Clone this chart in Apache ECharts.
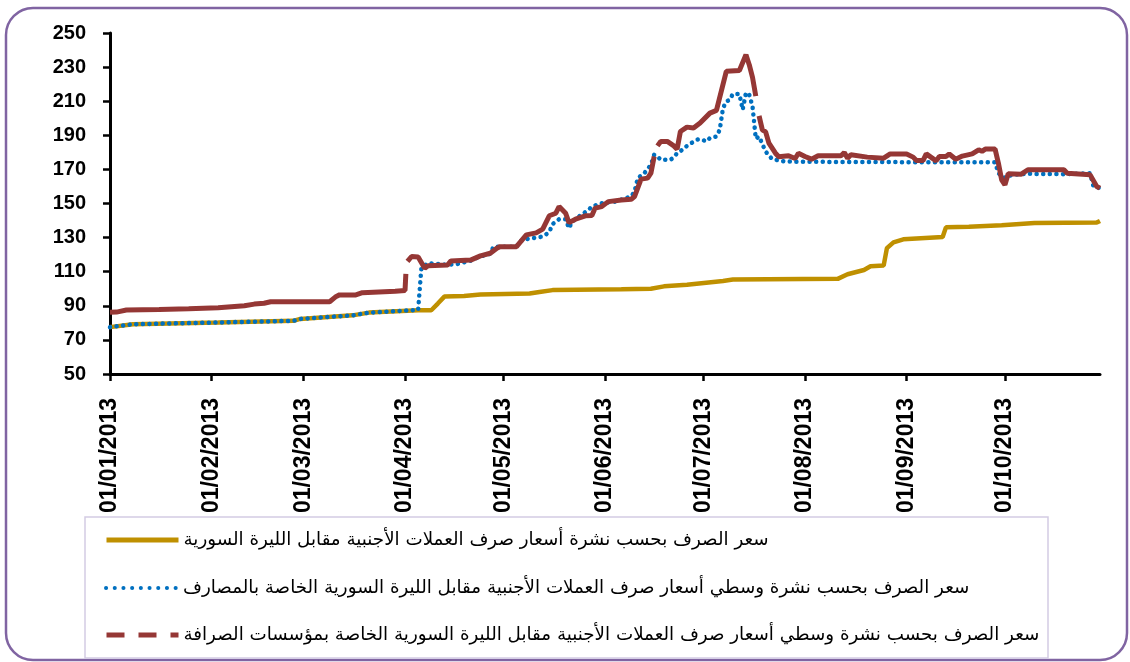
<!DOCTYPE html>
<html>
<head>
<meta charset="utf-8">
<script src="https://cdn.jsdelivr.net/npm/echarts@6/dist/echarts.min.js"></script>
<style>
html,body{margin:0;padding:0;background:#fff;}
#chart{width:1130px;height:662px;}
</style>
</head>
<body>
<div id="chart"></div>
<script>
// Series names (legend)
const seriesNames = [
  'سعر الصرف بحسب نشرة أسعار صرف العملات الأجنبية مقابل الليرة السورية',
  'سعر الصرف بحسب نشرة وسطي أسعار صرف العملات الأجنبية مقابل الليرة السورية الخاصة بالمصارف',
  'سعر الصرف بحسب نشرة وسطي أسعار صرف العملات الأجنبية مقابل الليرة السورية الخاصة بمؤسسات الصرافة'
];

// Y axis ticks
const yMin = 50, yMax = 250, yStep = 20;
const xMin = '2013-01-01', xMax = '2013-10-30';

// Official bulletin rate
const officialDates = ['2013-01-01','2013-01-08','2013-02-03','2013-02-26','2013-02-28','2013-03-16','2013-03-21','2013-04-05','2013-04-09','2013-04-11','2013-04-13','2013-04-19','2013-04-24','2013-05-09','2013-05-12','2013-05-16','2013-06-06','2013-06-15','2013-06-19','2013-06-26','2013-07-07','2013-07-10','2013-08-11','2013-08-14','2013-08-19','2013-08-21','2013-08-25','2013-08-26','2013-08-28','2013-08-31','2013-09-12','2013-09-13','2013-09-20','2013-09-30','2013-10-10','2013-10-29','2013-10-30'];
const officialValues = [77.5,79.2,80.2,81.2,82.3,84.4,86.0,87.4,87.4,91.3,95.4,95.8,96.6,97.2,98.1,99.2,99.7,100.0,101.4,102.4,104.6,105.4,105.8,108.5,111.0,113.2,113.6,123.8,127.2,129.0,130.3,136.0,136.3,137.3,138.6,138.8,139.8];

// Banks average rate
const bankDates = ['2013-01-01','2013-01-08','2013-02-03','2013-02-26','2013-02-28','2013-03-16','2013-03-21','2013-04-05','2013-04-06','2013-04-08','2013-04-14','2013-04-17','2013-04-21','2013-04-24','2013-04-27','2013-04-28','2013-05-05','2013-05-06','2013-05-08','2013-05-13','2013-05-15','2013-05-16','2013-05-18','2013-05-20','2013-05-21','2013-05-22','2013-05-24','2013-05-27','2013-05-28','2013-05-31','2013-06-04','2013-06-09','2013-06-10','2013-06-11','2013-06-13','2013-06-15','2013-06-16','2013-06-17','2013-06-18','2013-06-21','2013-06-22','2013-06-23','2013-06-24','2013-06-25','2013-06-27','2013-06-29','2013-06-30','2013-07-02','2013-07-03','2013-07-05','2013-07-06','2013-07-07','2013-07-08','2013-07-09','2013-07-10','2013-07-12','2013-07-13','2013-07-14','2013-07-15','2013-07-16','2013-07-17','2013-07-18','2013-07-20','2013-07-22','2013-07-26','2013-08-15','2013-09-28','2013-09-29','2013-10-01','2013-10-03','2013-10-08','2013-10-20','2013-10-27','2013-10-28','2013-10-30'];
const bankValues = [77.5,79.2,80.2,81.2,82.3,84.4,86.0,87.6,112.5,115.0,114.0,114.5,116.5,119.0,120.5,124.7,124.7,127.7,129.1,130.6,133.2,137.9,140.8,140.8,135.5,139.4,142.3,146.3,148.2,150.2,151.1,154.1,157.0,164.9,167.8,172.7,178.6,177.6,175.6,175.6,177.2,179.5,180.5,182.5,185.0,187.4,187.8,186.4,188.4,189.3,193.2,206.0,209.8,210.8,214.2,214.2,205.0,215.0,213.8,207.0,188.0,189.3,180.5,176.0,174.6,174.3,174.2,167.8,164.9,166.8,167.4,167.2,167.8,160.0,159.0];

// Exchange companies average rate (null = break in line)
const exchangeDates = ['2013-01-01','2013-01-03','2013-01-06','2013-01-16','2013-01-25','2013-02-03','2013-02-07','2013-02-11','2013-02-14','2013-02-17','2013-02-19','2013-03-09','2013-03-11','2013-03-12','2013-03-17','2013-03-19','2013-03-29','2013-04-01','2013-04-01 06:00','2013-04-01 12:00','2013-04-01 18:00','2013-04-03','2013-04-05','2013-04-07','2013-04-08','2013-04-14','2013-04-15','2013-04-21','2013-04-24','2013-04-27','2013-04-29','2013-04-30','2013-05-05','2013-05-08','2013-05-11','2013-05-13','2013-05-15','2013-05-17','2013-05-18','2013-05-20','2013-05-21','2013-05-23','2013-05-26','2013-05-28','2013-05-29','2013-05-31','2013-06-02','2013-06-06','2013-06-09','2013-06-10','2013-06-12','2013-06-14','2013-06-15','2013-06-16','2013-06-16 12:00','2013-06-17','2013-06-18','2013-06-20','2013-06-22','2013-06-23','2013-06-24','2013-06-26','2013-06-28','2013-06-30','2013-07-03','2013-07-05','2013-07-08','2013-07-12','2013-07-14','2013-07-15','2013-07-16','2013-07-17','2013-07-17 12:00','2013-07-18','2013-07-19','2013-07-20','2013-07-21','2013-07-23','2013-07-24','2013-07-27','2013-07-29','2013-07-30','2013-08-01','2013-08-03','2013-08-05','2013-08-12','2013-08-13','2013-08-14','2013-08-15','2013-08-20','2013-08-25','2013-08-27','2013-09-01','2013-09-03','2013-09-04','2013-09-06','2013-09-07','2013-09-10','2013-09-11','2013-09-13','2013-09-14','2013-09-16','2013-09-18','2013-09-21','2013-09-23','2013-09-24','2013-09-25','2013-09-28','2013-09-29','2013-09-30','2013-10-01','2013-10-02','2013-10-06','2013-10-08','2013-10-19','2013-10-20','2013-10-27','2013-10-29','2013-10-30'];
const exchangeValues = [86.2,86.3,87.5,87.8,88.3,88.9,89.5,90.0,91.0,91.5,92.4,92.4,95.5,96.4,96.4,97.7,98.5,99.0,108.7,null,116.0,118.9,118.6,112.0,113.5,114.0,116.3,116.8,119.3,120.8,123.8,124.7,124.7,131.6,132.8,135.0,142.8,144.3,148.2,144.3,138.8,140.8,142.8,143.0,147.3,148.2,151.1,152.0,152.5,154.1,164.3,164.9,167.8,177.6,null,183.8,186.4,186.4,183.8,181.9,192.2,194.8,194.3,197.2,203.0,204.6,227.5,228.0,237.3,231.4,224.0,213.0,null,201.4,193.2,192.0,185.4,179.5,177.4,178.0,176.4,179.5,177.6,176.0,178.0,178.0,179.9,176.6,178.6,177.2,176.6,179.1,179.1,177.2,175.2,175.2,179.1,175.0,177.6,177.6,179.0,176.0,177.8,179.1,181.5,180.6,181.9,181.9,173.7,163.9,161.0,167.4,167.2,169.8,169.8,167.8,166.8,160.0,159.0];

const colors = ['#BF9000', '#0070C0', '#953735'];

function pairs(d, v) { return d.map((x, i) => [x, v[i] === null ? '-' : v[i]]); }
function pad(n) { return (n < 10 ? '0' : '') + n; }

const chart = echarts.init(document.getElementById('chart'), null, {renderer: 'canvas'});

const legendTop = [531, 579, 626];
const legendLines = [
  {width: 5, type: 'solid', color: colors[0]},
  {width: 4, type: [0.1, 8.6], cap: 'round', color: colors[1]},
  {width: 5, type: [18, 14], color: colors[2]}
];

const option = {
  animation: false,
  backgroundColor: '#ffffff',
  grid: {left: 110, right: 30, top: 33, bottom: 288, containLabel: false},
  xAxis: {
    type: 'time',
    min: xMin,
    max: xMax,
    splitNumber: 10,
    minInterval: 28 * 86400000,
    axisLine: {show: true, lineStyle: {color: '#000', width: 3}},
    axisTick: {show: true, length: 7, lineStyle: {color: '#000', width: 2.5}},
    splitLine: {show: false},
    axisLabel: {
      rotate: 90,
      margin: 24,
      color: '#000',
      fontFamily: 'Liberation Sans',
      fontWeight: 'bold',
      fontSize: 23,
      showMaxLabel: false,
      formatter: function (v) {
        const d = new Date(v);
        return pad(d.getDate()) + '/' + pad(d.getMonth() + 1) + '/' + d.getFullYear();
      }
    }
  },
  yAxis: {
    type: 'value',
    min: yMin,
    max: yMax,
    interval: yStep,
    axisLine: {show: true, lineStyle: {color: '#000', width: 3}},
    axisTick: {show: true, length: 7, lineStyle: {color: '#000', width: 2.5}},
    splitLine: {show: false},
    axisLabel: {
      margin: 24,
      color: '#000',
      fontFamily: 'Liberation Sans',
      fontWeight: 'bold',
      fontSize: 20
    }
  },
  legend: seriesNames.map((n, i) => ({
    show: true,
    left: 104,
    top: legendTop[i],
    orient: 'vertical',
    itemWidth: 72,
    itemHeight: 14,
    padding: 0,
    selectedMode: false,
    textStyle: {fontFamily: 'DejaVu Sans', fontSize: 18.3, color: '#000'},
    data: [{name: n, lineStyle: legendLines[i], itemStyle: {opacity: 0}}]
  })),
  graphic: [
    {type: 'rect', shape: {x: 6, y: 8, width: 1121, height: 652, r: 27}, style: {fill: 'none', stroke: '#8064A2', lineWidth: 2.5}, z: -10},
    {type: 'rect', shape: {x: 85, y: 517, width: 963, height: 141}, style: {fill: 'none', stroke: '#D3CCE3', lineWidth: 1.5}, z: -10}
  ],
  series: [
    {
      name: seriesNames[0], type: 'line', symbol: 'none', z: 2,
      data: pairs(officialDates, officialValues),
      lineStyle: {color: colors[0], width: 4.5}, itemStyle: {color: colors[0]}
    },
    {
      name: seriesNames[1], type: 'line', symbol: 'none', z: 3,
      data: pairs(bankDates, bankValues),
      lineStyle: {color: colors[1], width: 4.5, type: [0.1, 6.5], cap: 'round'}, itemStyle: {color: colors[1]}
    },
    {
      name: seriesNames[2], type: 'line', symbol: 'none', z: 4, connectNulls: false,
      data: pairs(exchangeDates, exchangeValues),
      lineStyle: {color: colors[2], width: 5}, itemStyle: {color: colors[2]}
    }
  ]
};
chart.setOption(option);
</script>
</body>
</html>
